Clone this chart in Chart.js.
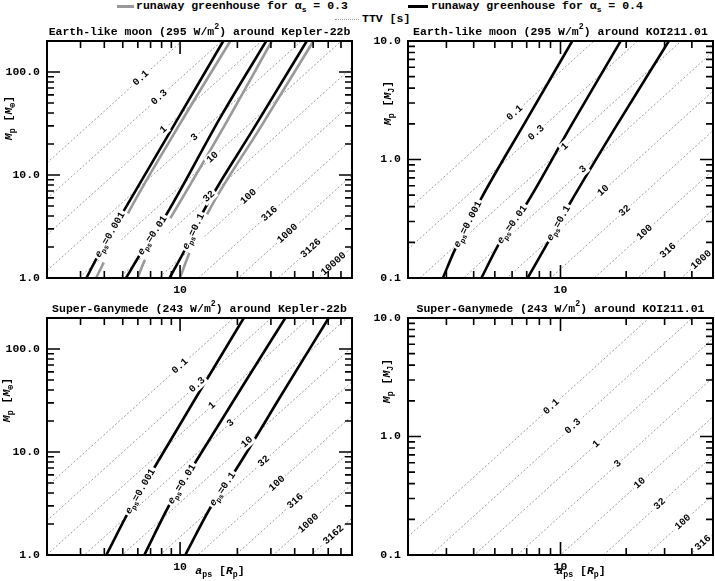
<!DOCTYPE html>
<html>
<head>
<meta charset="utf-8">
<script src="https://cdn.jsdelivr.net/npm/chart.js@4"></script>
<style>
  body { margin: 0; background: #fff; width: 715px; height: 581px; position: relative; overflow: hidden;
         font: bold 11.5px 'Liberation Mono', 'DejaVu Sans Mono', monospace; color: #000; }
  canvas { position: absolute; }
  .lg { position: absolute; white-space: nowrap; line-height: 12px; }
  .sw { position: absolute; height: 0; }
  .sub { font-size: 8px; position: relative; top: 3px; }
</style>
</head>
<body>
<div class="sw" style="left:117px;top:5px;width:17px;border-top:3px solid #999"></div>
<div class="lg" style="left:136px;top:0px">runaway greenhouse for α<span class="sub">s</span> = 0.3</div>
<div class="sw" style="left:408px;top:5px;width:20px;border-top:3px solid #000"></div>
<div class="lg" style="left:431px;top:0px">runaway greenhouse for α<span class="sub">s</span> = 0.4</div>
<div class="sw" style="left:335px;top:19px;width:24px;border-top:1px dotted #999"></div>
<div class="lg" style="left:362px;top:13px">TTV [s]</div>

<canvas id="c1" width="360" height="282" style="left:0;top:22px"></canvas>
<canvas id="c2" width="355" height="282" style="left:360px;top:22px"></canvas>
<canvas id="c3" width="360" height="282" style="left:0;top:299px"></canvas>
<canvas id="c4" width="355" height="282" style="left:360px;top:299px"></canvas>

<script>
const FONT = "'Liberation Mono', 'DejaVu Sans Mono', monospace";

// --- Earth-like moon around Kepler-22b (top left) ---
const ekRangeA = [2, 80];
const ekRangeM = [1, 200];
const ekTicksM = [1, 10, 100];
const ekTTVText = ['0.1', '0.3', '1', '3', '10', '32', '100', '316', '1000', '3126', '10000'];
// M_p where each TTV line meets a_ps = 2 and a_ps = 80
const ekTTVEnds = [[13.1, 6209], [5.88, 2780], [2.62, 1242], [1.18, 556], [0.525, 248], [0.234, 111],
                   [0.105, 49.7], [0.0469, 22.2], [0.021, 9.93], [0.00938, 4.44], [0.0042, 1.99]];
const ekTTVLabelA = [6.23, 7.78, 8.19, 11.9, 14.8, 14.2, 22.9, 29.5, 36.7, 48.7, 64.0];
const ekBlack = [
    [[3.22, 1], [3.69, 1.62], [4.99, 4.28], [9.33, 30.8], [16.9, 201]],
    [[5.20, 1], [6.23, 1.75], [8.26, 3.82], [16.4, 37.1], [28.4, 201]],
    [[8.81, 1], [10.6, 1.88], [13.1, 4.26], [24.5, 28.8], [46.4, 201]]
];
const ekGray = [
    [[3.62, 1], [4.00, 1.45], [5.28, 4.12], [10.0, 31.5], [18.4, 201]],
    [[5.98, 1], [6.49, 1.45], [8.67, 3.52], [16.3, 25.8], [30.4, 201]],
    [[10.0, 1], [11.0, 1.62], [14.1, 4.40], [26.4, 28.8], [50.3, 201]]
];

// --- Earth-like moon around KOI211.01 (top right) ---
const ekoRangeA = [2, 50];
const ekoRangeM = [0.1, 10];
const ekoTicksM = [0.1, 1, 10];
const ekoTTVText = ['0.1', '0.3', '1', '3', '10', '32', '100', '316', '1000'];
const ekoTTVEnds = [[0.377, 81.5], [0.175, 37.8], [0.0811, 17.5], [0.0376, 8.13], [0.0175, 3.78],
                    [0.00809, 1.75], [0.00375, 0.811], [0.00174, 0.377], [0.000807, 0.175]];
const ekoTTVLabelA = [6.17, 7.75, 10.45, 12.7, 15.7, 19.7, 24.3, 31.1, 44.2];
const ekoBlack = [
    [[2.89, 0.1], [3.27, 0.171], [4.34, 0.473], [7.00, 2.17], [11.4, 10.2]],
    [[4.34, 0.1], [5.27, 0.200], [6.85, 0.399], [11.25, 1.97], [19.0, 10.2]],
    [[7.07, 0.1], [8.76, 0.200], [11.0, 0.421], [18.3, 2.01], [31.6, 10.2]]
];

// --- Super-Ganymede around Kepler-22b (bottom left) ---
const gkTTVText = ['0.1', '0.3', '1', '3', '10', '32', '100', '316', '1000', '3162'];
const gkTTVEnds = [[4.63, 2193], [2.16, 1023], [1.007, 476], [0.470, 222], [0.219, 104],
                   [0.102, 48.3], [0.0475, 22.5], [0.0222, 10.5], [0.0103, 4.89], [0.00482, 2.28]];
const gkTTVLabelA = [10.0, 12.3, 14.7, 18.4, 22.5, 27.5, 32.3, 40.3, 47.3, 64.0];
const gkBlack = [
    [[4.10, 1], [5.37, 2.63], [7.15, 6.54], [12.8, 40.0], [21.6, 200]],
    [[6.49, 1], [8.88, 3.18], [11.8, 7.48], [21.0, 41.8], [35.7, 200]],
    [[10.65, 1], [14.7, 3.06], [19.1, 6.21], [34.8, 38.2], [60.3, 200]]
];

// --- Super-Ganymede around KOI211.01 (bottom right) ---
const gkoTTVText = ['0.1', '0.3', '1', '3', '10', '32', '100', '316'];
const gkoTTVEnds = [[0.1426, 30.8], [0.0667, 14.4], [0.0311, 6.73], [0.01455, 3.15],
                    [0.00681, 1.47], [0.00318, 0.689], [0.00149, 0.322], [0.000697, 0.151]];
const gkoTTVLabelA = [9.08, 11.4, 14.6, 18.3, 23.1, 28.5, 36.4, 45.0];

const eText = ['0.001', '0.01', '0.1'];

const panels = [
    { id: 'c1', title: [['Earth-like moon (295 W/m', ''], ['2', 'u'], [') around Kepler-22b', '']],
      rangeA: ekRangeA, rangeM: ekRangeM, ticksM: ekTicksM, unit: '⊕',
      ttvText: ekTTVText, ttvEnds: ekTTVEnds, ttvLabelA: ekTTVLabelA,
      black: ekBlack, gray: ekGray, axisW: 47, padR: 8, yTitle: [-38, 77], xTitle: false, eBox: [-6, 12] },
    { id: 'c2', title: [['Earth-like moon (295 W/m', ''], ['2', 'u'], [') around KOI211.01', '']],
      rangeA: ekoRangeA, rangeM: ekoRangeM, ticksM: ekoTicksM, unit: 'J',
      ttvText: ekoTTVText, ttvEnds: ekoTTVEnds, ttvLabelA: ekoTTVLabelA,
      black: ekoBlack, gray: [], axisW: 48, padR: 2, yTitle: [-20, 62], xTitle: false, eBox: [-6, 6] },
    { id: 'c3', title: [['Super-Ganymede (243 W/m', ''], ['2', 'u'], [') around Kepler-22b', '']],
      rangeA: ekRangeA, rangeM: ekRangeM, ticksM: ekTicksM, unit: '⊕',
      ttvText: gkTTVText, ttvEnds: gkTTVEnds, ttvLabelA: gkTTVLabelA,
      black: gkBlack, gray: [], axisW: 47, padR: 8, yTitle: [-40, 82], xTitle: true, eBox: [-6, 6] },
    { id: 'c4', title: [['Super-Ganymede (243 W/m', ''], ['2', 'u'], [') around KOI211.01', '']],
      rangeA: ekoRangeA, rangeM: ekoRangeM, ticksM: ekoTicksM, unit: 'J',
      ttvText: gkoTTVText, ttvEnds: gkoTTVEnds, ttvLabelA: gkoTTVLabelA,
      black: [], gray: [], axisW: 48, padR: 2, yTitle: [-21, 63], xTitle: true, eBox: [-6, 6] }
];

// --- rich text helpers (italic, subscript, superscript) ---
function fontFor(st, size) {
    const small = st.includes('s') || st.includes('u');
    return (st.includes('i') ? 'italic ' : '') + 'bold ' + (small ? size * 0.72 : size) + 'px ' + FONT;
}
function richWidth(ctx, parts, size) {
    let w = 0;
    parts.forEach(([t, st]) => { ctx.font = fontFor(st, size); w += ctx.measureText(t).width; });
    return w;
}
function drawRich(ctx, parts, cx, cy, size) {
    let x = cx - richWidth(ctx, parts, size) / 2;
    ctx.textAlign = 'left';
    ctx.textBaseline = 'middle';
    parts.forEach(([t, st]) => {
        ctx.font = fontFor(st, size);
        let dy = 0;
        if (st.includes('s')) dy = size * 0.32;
        if (st.includes('u')) dy = -size * 0.42;
        ctx.fillText(t, x, cy + dy);
        x += ctx.measureText(t).width;
    });
}
function boxedLabel(ctx, parts, x, y, ang, size, box) {
    ctx.save();
    ctx.translate(x, y);
    ctx.rotate(ang);
    const w = richWidth(ctx, parts, size);
    ctx.fillStyle = '#fff';
    ctx.fillRect(-w / 2 - 2, box[0], w + 4, box[1] - box[0]);
    ctx.fillStyle = '#000';
    drawRich(ctx, parts, 0, 0, size);
    ctx.restore();
}
function logTicks(lo, hi) {
    const out = [];
    for (let d = Math.floor(Math.log10(lo)); d <= Math.ceil(Math.log10(hi)); d++) {
        for (let m = 1; m < 10; m++) {
            const v = m * Math.pow(10, d);
            if (v > lo * 1.0001 && v < hi * 0.9999) out.push([v, m === 1]);
        }
    }
    return out;
}

function makeDeco(p) {
    return {
        id: 'deco',
        afterDatasetsDraw(chart) {
            const ctx = chart.ctx, xs = chart.scales.x, ys = chart.scales.y, ca = chart.chartArea;
            ctx.save();
            ctx.beginPath();
            ctx.rect(ca.left, ca.top, ca.right - ca.left, ca.bottom - ca.top);
            ctx.clip();
            const la0 = Math.log10(p.rangeA[0]), la1 = Math.log10(p.rangeA[1]);
            p.ttvEnds.forEach((e, i) => {
                const a = p.ttvLabelA[i];
                const f = (Math.log10(a) - la0) / (la1 - la0);
                const m = Math.pow(10, Math.log10(e[0]) + f * (Math.log10(e[1]) - Math.log10(e[0])));
                const x0 = xs.getPixelForValue(p.rangeA[0]), y0 = ys.getPixelForValue(e[0]);
                const x1 = xs.getPixelForValue(p.rangeA[1]), y1 = ys.getPixelForValue(e[1]);
                boxedLabel(ctx, [[p.ttvText[i], '']], xs.getPixelForValue(a), ys.getPixelForValue(m),
                           Math.atan2(y1 - y0, x1 - x0), 10, [-5.5, 5.5]);
            });
            p.black.forEach((c, i) => {
                const xa = xs.getPixelForValue(c[1][0]), ya = ys.getPixelForValue(c[1][1]);
                const xb = xs.getPixelForValue(c[2][0]), yb = ys.getPixelForValue(c[2][1]);
                boxedLabel(ctx, [['e', 'i'], ['ps', 's'], ['=' + eText[i], '']], (xa + xb) / 2, (ya + yb) / 2,
                           Math.atan2(yb - ya, xb - xa), 10, p.eBox);
            });
            ctx.restore();
        },
        afterDraw(chart) {
            const ctx = chart.ctx, xs = chart.scales.x, ys = chart.scales.y, ca = chart.chartArea;
            ctx.save();
            ctx.strokeStyle = '#000';
            ctx.lineWidth = 2;
            ctx.strokeRect(ca.left, ca.top, ca.right - ca.left, ca.bottom - ca.top);
            ctx.lineWidth = 1.6;
            ctx.beginPath();
            logTicks(p.rangeA[0], p.rangeA[1]).forEach(([v, major]) => {
                const px = xs.getPixelForValue(v), len = major ? 13 : 7;
                ctx.moveTo(px, ca.bottom); ctx.lineTo(px, ca.bottom - len);
                ctx.moveTo(px, ca.top); ctx.lineTo(px, ca.top + len);
            });
            logTicks(p.rangeM[0], p.rangeM[1]).forEach(([v, major]) => {
                const py = ys.getPixelForValue(v), len = major ? 13 : 7;
                ctx.moveTo(ca.left, py); ctx.lineTo(ca.left + len, py);
                ctx.moveTo(ca.right, py); ctx.lineTo(ca.right - len, py);
            });
            ctx.stroke();

            ctx.fillStyle = '#000';
            drawRich(ctx, p.title, (ca.left + ca.right) / 2, ca.top - 9.3, 11.5);

            ctx.save();
            ctx.translate(ca.left + p.yTitle[0], ca.top + p.yTitle[1]);
            ctx.rotate(-Math.PI / 2);
            drawRich(ctx, [['M', 'i'], ['p', 's'], [' [', ''], ['M', 'i'], [p.unit, 's'], [']', '']], 0, 0, 11.5);
            ctx.restore();

            if (p.xTitle) {
                drawRich(ctx, [['a', 'i'], ['ps', 's'], [' [', ''], ['R', 'i'], ['p', 's'], [']', '']],
                         ca.left + 173, ca.bottom + 16, 11.5);
            }
            ctx.restore();
        }
    };
}

const lineBase = { pointRadius: 0, fill: false, clip: 0, cubicInterpolationMode: 'monotone' };
const tickFont = { family: FONT, size: 11.5, weight: 'bold' };

panels.forEach(p => {
    const datasets = [];
    p.ttvEnds.forEach(e => datasets.push(Object.assign({}, lineBase, {
        data: [{ x: p.rangeA[0], y: e[0] }, { x: p.rangeA[1], y: e[1] }],
        borderColor: '#9c9c9c', borderWidth: 1, borderDash: [2, 2], order: 3
    })));
    p.gray.forEach(c => datasets.push(Object.assign({}, lineBase, {
        data: c.map(pt => ({ x: pt[0], y: pt[1] })), borderColor: '#999999', borderWidth: 2.6, order: 2
    })));
    p.black.forEach(c => datasets.push(Object.assign({}, lineBase, {
        data: c.map(pt => ({ x: pt[0], y: pt[1] })), borderColor: '#000000', borderWidth: 2.6, order: 1
    })));

    new Chart(document.getElementById(p.id), {
        type: 'line',
        data: { datasets },
        options: {
            responsive: false,
            animation: false,
            events: [],
            layout: { padding: { top: 19, right: p.padR, left: 0, bottom: 0 } },
            plugins: { legend: { display: false }, tooltip: { enabled: false }, title: { display: false } },
            scales: {
                x: {
                    type: 'logarithmic', min: p.rangeA[0], max: p.rangeA[1],
                    afterBuildTicks: s => { s.ticks = [{ value: 10 }]; },
                    afterFit: s => { s.height = 26; },
                    ticks: { callback: v => String(v), font: tickFont, color: '#000', padding: 5,
                             maxRotation: 0, minRotation: 0, autoSkip: false },
                    grid: { display: false, drawTicks: false },
                    border: { display: false }
                },
                y: {
                    type: 'logarithmic', min: p.rangeM[0], max: p.rangeM[1],
                    afterBuildTicks: s => { s.ticks = p.ticksM.map(v => ({ value: v })); },
                    afterFit: s => { s.width = p.axisW; },
                    ticks: { callback: v => Number(v).toFixed(1), font: tickFont, color: '#000', padding: 7,
                             autoSkip: false },
                    grid: { display: false, drawTicks: false },
                    border: { display: false }
                }
            }
        },
        plugins: [makeDeco(p)]
    });
});
</script>
</body>
</html>
